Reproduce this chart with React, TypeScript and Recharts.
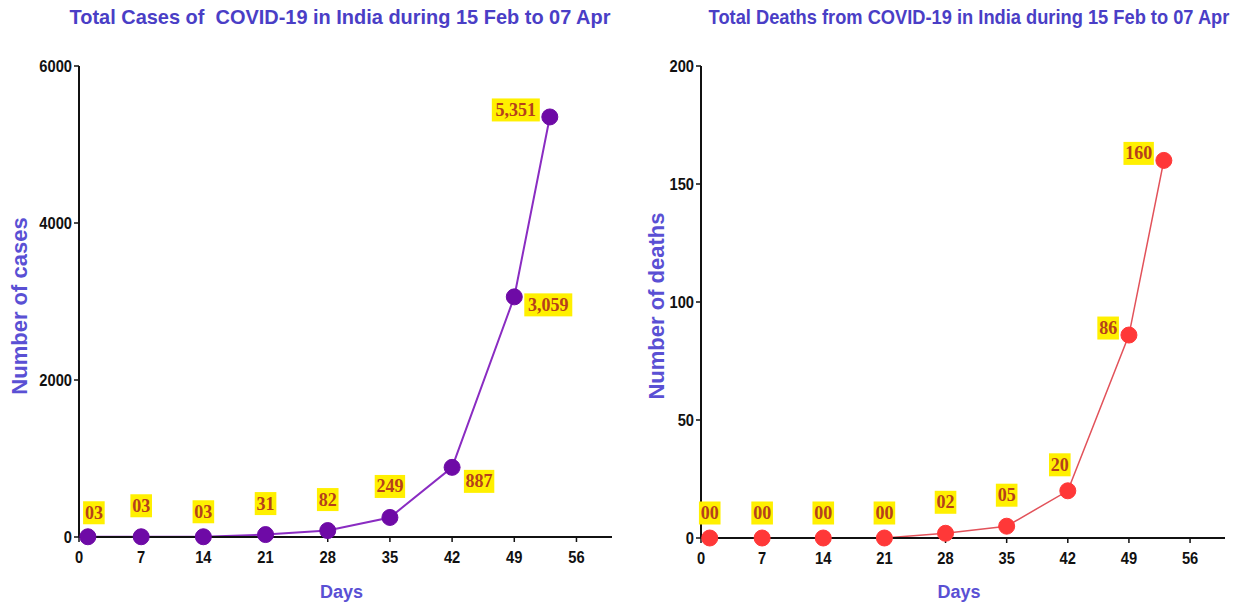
import { LineChart, Line, XAxis, YAxis, LabelList } from 'recharts';

const days = [1, 7, 14, 21, 28, 35, 42, 49, 53];
const totalCases = [3, 3, 3, 31, 82, 249, 887, 3059, 5351];
const caseLabels = ['03', '03', '03', '31', '82', '249', '887', '3,059', '5,351'];
const totalDeaths = [0, 0, 0, 0, 2, 5, 20, 86, 160];
const deathLabels = ['00', '00', '00', '00', '02', '05', '20', '86', '160'];
const dayTicks = [0, 7, 14, 21, 28, 35, 42, 49, 56];
const caseTicks = [0, 2000, 4000, 6000];
const deathTicks = [0, 50, 100, 150, 200];

// where each value badge sits relative to its point
const casePlaces = ['topRight', 'topHigh', 'top', 'topHigh', 'topHigh', 'topHigh', 'belowRight', 'right', 'left'];
const deathPlaces = ['top', 'top', 'top', 'top', 'topHigh', 'topHigh', 'topLeft', 'left', 'left'];

const TITLE_COLOR = '#4a3ec6';
const LABEL_COLOR = '#5a50d4';
const SANS = '"Liberation Sans", Arial, sans-serif';

function badge(texts: string[], places: string[]) {
  return (props: any) => {
    const { x, y, index } = props;
    const text = texts[index];
    const w = text.length * 8.8 + 4;
    const h = 23;
    let cx = x;
    let cy = y - 25;
    switch (places[index]) {
      case 'topRight':
        cx = x + 6;
        cy = y - 24;
        break;
      case 'topHigh':
        cy = y - 31;
        break;
      case 'topLeft':
        cx = x - 8;
        cy = y - 26;
        break;
      case 'belowRight':
        cx = x + 27;
        cy = y + 14;
        break;
      case 'right':
        cx = x + 34;
        cy = y + 8;
        break;
      case 'left':
        cx = x - 10 - w / 2;
        cy = y - 7;
        break;
    }
    return (
      <g>
        <rect x={cx - w / 2} y={cy - h / 2} width={w} height={h} fill="#fff000" />
        <text
          x={cx}
          y={cy}
          textAnchor="middle"
          dominantBaseline="central"
          fontFamily='"Liberation Serif", "Times New Roman", serif'
          fontWeight="bold"
          fontSize={18}
          fill="#b5401c"
        >
          {text}
        </text>
      </g>
    );
  };
}

// condensed-looking tick text
function NarrowTick(props: any) {
  const { x, y, payload, orientation } = props;
  const isY = orientation === 'left';
  return (
    <text
      transform={`translate(${x},${y}) scale(0.92,1.05)`}
      textAnchor={isY ? 'end' : 'middle'}
      dominantBaseline={isY ? 'central' : 'hanging'}
      fontFamily={SANS}
      fontWeight="bold"
      fontSize={16}
      fill="#111"
    >
      {payload.value}
    </text>
  );
}

type PanelProps = {
  left: number;
  width: number;
  plotLeft: number;
  plotRight: number;
  plotBottom: number;
  title: string;
  titleX: number;
  titleScale: number;
  yLabel: string;
  yLabelX: number;
  values: number[];
  texts: string[];
  places: string[];
  yTicks: number[];
  lineColor: string;
  dotColor: string;
  lineWidth: number;
};

function Panel(p: PanelProps) {
  const data = days.map((d, i) => ({ day: d, value: p.values[i] }));
  const yWidth = 50;
  const xHeight = 30;
  const top = 66;
  const midY = (top + p.plotBottom) / 2;
  const midX = (p.plotLeft + p.plotRight) / 2;
  return (
    <div style={{ position: 'absolute', left: p.left, top: 0, width: p.width, height: 605 }}>
      <div
        style={{
          position: 'absolute',
          left: p.titleX,
          top: 5,
          transform: `translateX(-50%) scaleX(${p.titleScale})`,
          fontFamily: SANS,
          fontWeight: 'bold',
          fontSize: 21,
          color: TITLE_COLOR,
          whiteSpace: 'pre',
        }}
      >
        {p.title}
      </div>
      <LineChart
        width={p.width}
        height={605}
        data={data}
        margin={{
          top,
          right: p.width - p.plotRight,
          bottom: 605 - p.plotBottom - xHeight,
          left: p.plotLeft - yWidth,
        }}
      >
        <XAxis
          dataKey="day"
          type="number"
          domain={[0, 60]}
          ticks={dayTicks}
          height={xHeight}
          tickSize={5}
          tickMargin={9}
          axisLine={{ stroke: '#111', strokeWidth: 2 }}
          tickLine={{ stroke: '#111', strokeWidth: 1.5 }}
          tick={<NarrowTick orientation="bottom" />}
        />
        <YAxis
          type="number"
          domain={[p.yTicks[0], p.yTicks[p.yTicks.length - 1]]}
          ticks={p.yTicks}
          width={yWidth}
          tickSize={5}
          tickMargin={2}
          axisLine={{ stroke: '#111', strokeWidth: 2 }}
          tickLine={{ stroke: '#111', strokeWidth: 1.5 }}
          tick={<NarrowTick orientation="left" />}
        />
        <Line
          type="linear"
          dataKey="value"
          stroke={p.lineColor}
          strokeWidth={p.lineWidth}
          dot={{ r: 8, fill: p.dotColor, stroke: p.dotColor, strokeWidth: 1 }}
          isAnimationActive={false}
        >
          <LabelList dataKey="value" content={badge(p.texts, p.places)} />
        </Line>
      </LineChart>
      <div
        style={{
          position: 'absolute',
          left: p.yLabelX,
          top: midY + 4,
          transform: 'translate(-50%, -50%) rotate(-90deg)',
          fontFamily: SANS,
          fontWeight: 'bold',
          fontSize: 22,
          color: LABEL_COLOR,
          whiteSpace: 'nowrap',
        }}
      >
        {p.yLabel}
      </div>
      <div
        style={{
          position: 'absolute',
          left: midX - 4,
          top: 592,
          transform: 'translate(-50%, -50%)',
          fontFamily: SANS,
          fontWeight: 'bold',
          fontSize: 18,
          color: LABEL_COLOR,
        }}
      >
        Days
      </div>
    </div>
  );
}

export default function App() {
  return (
    <div style={{ position: 'absolute', left: 0, top: 0, width: 1233, height: 605, background: '#fff' }}>
      <Panel
        left={0}
        width={620}
        plotLeft={79}
        plotRight={612}
        plotBottom={537}
        title="Total Cases of  COVID-19 in India during 15 Feb to 07 Apr"
        titleX={340}
        titleScale={0.95}
        yLabel="Number of cases"
        yLabelX={20}
        values={totalCases}
        texts={caseLabels}
        places={casePlaces}
        yTicks={caseTicks}
        lineColor="#8a2cc2"
        dotColor="#6e0aa6"
        lineWidth={2}
      />
      <Panel
        left={620}
        width={613}
        plotLeft={81}
        plotRight={605}
        plotBottom={538}
        title="Total Deaths from COVID-19 in India during 15 Feb to 07 Apr"
        titleX={349}
        titleScale={0.87}
        yLabel="Number of deaths"
        yLabelX={37}
        values={totalDeaths}
        texts={deathLabels}
        places={deathPlaces}
        yTicks={deathTicks}
        lineColor="#e2525a"
        dotColor="#ff3838"
        lineWidth={1.5}
      />
    </div>
  );
}
